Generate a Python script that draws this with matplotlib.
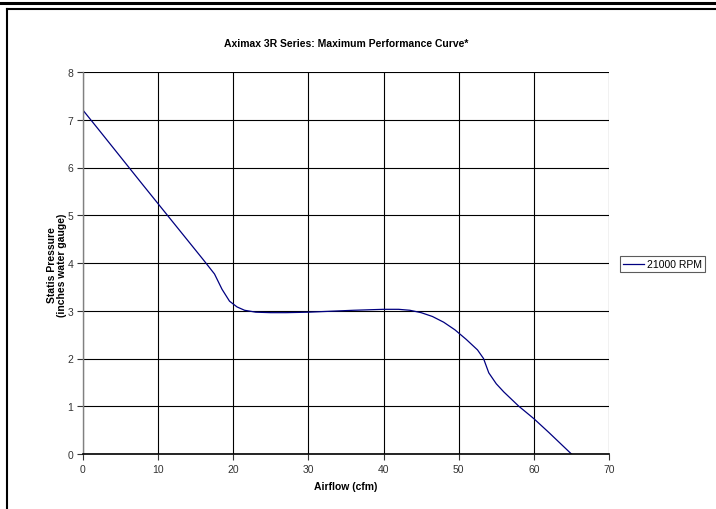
import matplotlib
matplotlib.use("Agg")
import matplotlib.pyplot as plt
from matplotlib.lines import Line2D

plt.rcParams["font.family"] = "Liberation Sans"

# Curve (airflow in cfm, pressure in inches water gauge)
airflow = [0, 2, 5, 8, 10, 12, 14, 16, 17.5, 18.5, 19.5, 20.5, 21.5, 23, 25, 27,
           30, 33, 36, 40, 42, 43.5, 45, 46.5, 48, 49.5, 51, 52.5, 53.3, 54, 55,
           56, 57, 58, 60, 62, 65]
pressure = [7.2, 6.81, 6.22, 5.63, 5.24, 4.85, 4.46, 4.07, 3.77, 3.45, 3.2, 3.08,
            3.01, 2.97, 2.96, 2.96, 2.97, 2.99, 3.01, 3.03, 3.03, 3.01, 2.96, 2.88,
            2.76, 2.6, 2.4, 2.18, 2.0, 1.7, 1.47, 1.3, 1.15, 1.0, 0.74, 0.45, 0.0]
series_label = "21000 RPM"
x_ticks = [0, 10, 20, 30, 40, 50, 60, 70]
y_ticks = [0, 1, 2, 3, 4, 5, 6, 7, 8]

W, H = 716, 510
fig = plt.figure(figsize=(W / 100, H / 100), dpi=100)

# page-style frame lines
fig.add_artist(Line2D([0, 1], [1 - 4 / H, 1 - 4 / H], color="black", lw=2.2,
                      transform=fig.transFigure))
fig.add_artist(Line2D([7.5 / W, 1], [1 - 9.5 / H, 1 - 9.5 / H], color="black", lw=1.5,
                      transform=fig.transFigure))
fig.add_artist(Line2D([7.5 / W, 7.5 / W], [1 - 9.5 / H, 0], color="black", lw=1.5,
                      transform=fig.transFigure))

ax = fig.add_axes([83 / W, 55 / H, 526 / W, 382 / H])
ax.plot(airflow, pressure, color="#000080", lw=0.9, label=series_label)

ax.set_xlim(0, 70)
ax.set_ylim(0, 8)
ax.set_xticks(x_ticks)
ax.set_yticks(y_ticks)
ax.grid(True, color="black", lw=0.8)
ax.set_axisbelow(True)
for s in ["top", "right"]:
    ax.spines[s].set_visible(False)
ax.spines["left"].set_color("#808080")
ax.spines["left"].set_linewidth(1.0)
ax.spines["bottom"].set_color("black")
ax.spines["bottom"].set_linewidth(1.2)
ax.tick_params(direction="out", length=4, width=0.8, labelsize=7.5,
               colors="#333333", pad=3)

ax.set_title("Aximax 3R Series: Maximum Performance Curve*", fontsize=7.5,
             fontweight="bold", pad=19)
ax.set_xlabel("Airflow (cfm)", fontsize=7.5, fontweight="bold", labelpad=5)
ax.set_ylabel("Statis Pressure\n(inches water gauge)", fontsize=7.5,
              fontweight="bold", linespacing=1.1)
ax.yaxis.set_label_coords(-0.0295, 0.497)

leg = ax.legend(loc="center left", bbox_to_anchor=(1.021, 0.497), fontsize=7.5,
                frameon=True, fancybox=False, handlelength=2.0,
                borderpad=0.3, handletextpad=0.3, borderaxespad=0)
leg.get_frame().set_edgecolor("#333333")
leg.get_frame().set_linewidth(0.8)

fig.savefig("out.png", dpi=100)
